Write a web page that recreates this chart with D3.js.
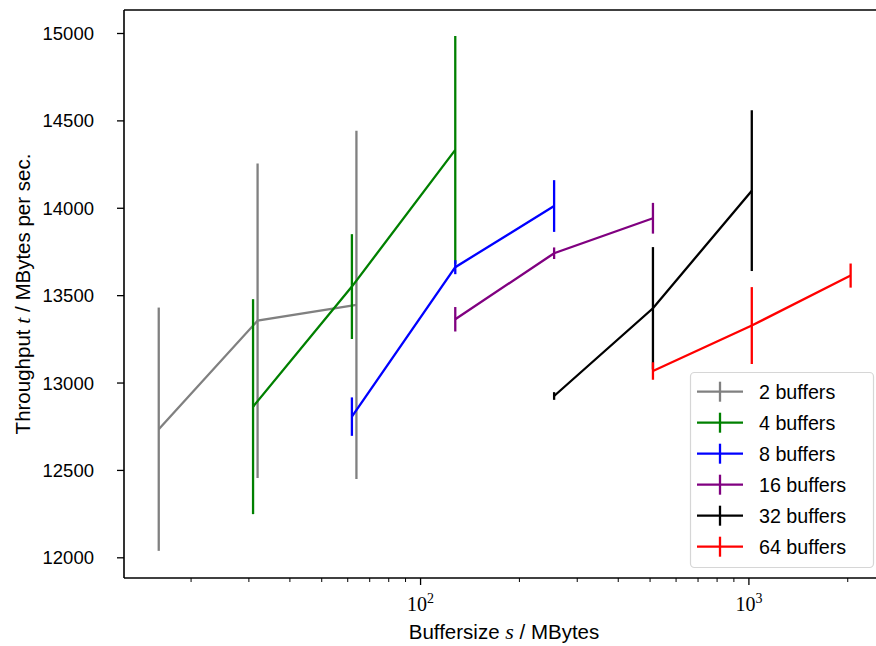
<!DOCTYPE html>
<html>
<head>
<meta charset="utf-8">
<script src="https://cdn.jsdelivr.net/npm/d3@7"></script>
<style>
  body { margin: 0; background: #fff; }
  svg text { font-family: "Liberation Sans", Arial, sans-serif; fill: #000; }
</style>
</head>
<body>
<div id="chart"></div>
<script>
// series: buffer sizes (MBytes), mean throughput and error (MBytes/s)
var labels = ["2 buffers", "4 buffers", "8 buffers", "16 buffers", "32 buffers", "64 buffers"];
var colors = ["gray", "green", "blue", "purple", "black", "red"];

var sizes2 = [16, 32, 64],     tp2 = [12733, 13354, 13444],  err2 = [696, 900, 996];
var sizes4 = [31, 62, 128],    tp4 = [12862, 13549, 14331],  err4 = [615, 300, 652];
var sizes8 = [62, 128, 256],   tp8 = [12805, 13660, 14010],  err8 = [110, 40, 148];
var sizes16 = [128, 256, 512], tp16 = [13362, 13740, 13940], err16 = [70, 33, 88];
var sizes32 = [256, 512, 1024], tp32 = [12923, 13425, 14098], err32 = [22, 350, 460];
var sizes64 = [512, 1024, 2048], tp64 = [13066, 13326, 13612], err64 = [50, 220, 69];

var yTicks = [12000, 12500, 13000, 13500, 14000, 14500, 15000];
var xMajor = [100, 1000];
var xMinor = [20, 30, 40, 50, 60, 70, 80, 90, 200, 300, 400, 500, 600, 700, 800, 900, 2000];

var series = [
  {s: sizes2, t: tp2, e: err2},
  {s: sizes4, t: tp4, e: err4},
  {s: sizes8, t: tp8, e: err8},
  {s: sizes16, t: tp16, e: err16},
  {s: sizes32, t: tp32, e: err32},
  {s: sizes64, t: tp64, e: err64}
];

var W = 876, H = 646;
var mLeft = 124, mRight = 884, mTop = 10, mBottom = 578;

var svg = d3.select("#chart").append("svg")
    .attr("width", W).attr("height", H);

var x = d3.scaleLog().domain([12.54, 2588]).range([mLeft, mRight]);
var y = d3.scaleLinear().domain([11881.6, 15131.6]).range([mBottom, mTop]);

var plot = svg.append("g");

series.forEach(function (ser, i) {
  var pts = ser.s.map(function (d, j) { return {x: d, y: ser.t[j], e: ser.e[j]}; });
  var g = plot.append("g");
  g.append("path")
      .datum(pts)
      .attr("fill", "none")
      .attr("stroke", colors[i])
      .attr("stroke-width", 2.3)
      .attr("d", d3.line().x(function (d) { return x(d.x); }).y(function (d) { return y(d.y); }));
  g.selectAll("line.err")
      .data(pts)
      .enter().append("line")
      .attr("class", "err")
      .attr("x1", function (d) { return x(d.x); })
      .attr("x2", function (d) { return x(d.x); })
      .attr("y1", function (d) { return y(d.y - d.e); })
      .attr("y2", function (d) { return y(d.y + d.e); })
      .attr("stroke", colors[i])
      .attr("stroke-width", 2.3);
});

// frame
svg.append("line").attr("x1", mLeft).attr("x2", mLeft).attr("y1", mTop).attr("y2", mBottom)
    .attr("stroke", "#000").attr("stroke-width", 1.6);
svg.append("line").attr("x1", mLeft).attr("x2", W).attr("y1", mTop).attr("y2", mTop)
    .attr("stroke", "#000").attr("stroke-width", 1.6);
svg.append("line").attr("x1", mLeft).attr("x2", W).attr("y1", mBottom).attr("y2", mBottom)
    .attr("stroke", "#000").attr("stroke-width", 1.6);

// y axis
var yAxis = svg.append("g")
    .attr("transform", "translate(" + mLeft + ",0)")
    .call(d3.axisLeft(y).tickValues(yTicks).tickSize(7).tickPadding(23).tickFormat(d3.format("d")));
yAxis.select(".domain").remove();
yAxis.selectAll(".tick line").attr("stroke-width", 1.3);
yAxis.selectAll(".tick text").style("font-size", "18.5px").attr("dy", "0.35em");

// x axis, minor ticks
var xMin = svg.append("g")
    .attr("transform", "translate(0," + mBottom + ")")
    .call(d3.axisBottom(x).tickValues(xMinor).tickSize(4).tickFormat(""));
xMin.select(".domain").remove();
xMin.selectAll(".tick line").attr("stroke-width", 1);

// x axis, major ticks
var xMaj = svg.append("g")
    .attr("transform", "translate(0," + mBottom + ")")
    .call(d3.axisBottom(x).tickValues(xMajor).tickSize(7).tickFormat(""));
xMaj.select(".domain").remove();
xMaj.selectAll(".tick line").attr("stroke-width", 1.3);
xMaj.selectAll(".tick").each(function (d) {
  var t = d3.select(this).append("text")
      .attr("y", 33)
      .attr("text-anchor", "middle")
      .style("font-family", "'Liberation Serif', 'DejaVu Serif', serif")
      .style("font-size", "20px");
  t.append("tspan").text("10");
  t.append("tspan").attr("dy", -8).style("font-size", "14px").text(Math.round(Math.log10(d)));
});

// axis labels
var xl = svg.append("text")
    .attr("x", 504).attr("y", 639)
    .attr("text-anchor", "middle")
    .style("font-size", "20.5px");
xl.append("tspan").text("Buffersize ");
xl.append("tspan").style("font-family", "'Liberation Serif', serif").style("font-style", "italic").style("font-size", "22px").text("s");
xl.append("tspan").text(" / MBytes");

var yl = svg.append("text")
    .attr("transform", "translate(30,294) rotate(-90)")
    .attr("text-anchor", "middle")
    .style("font-size", "20.5px");
yl.append("tspan").text("Throughput ");
yl.append("tspan").style("font-family", "'Liberation Serif', serif").style("font-style", "italic").style("font-size", "22px").text("t");
yl.append("tspan").text(" / MBytes per sec.");

// legend
var lg = svg.append("g");
lg.append("rect")
    .attr("x", 690.5).attr("y", 372.5).attr("width", 183).attr("height", 195)
    .attr("rx", 4)
    .attr("fill", "#fff").attr("fill-opacity", 0.8)
    .attr("stroke", "#d6d6d6").attr("stroke-width", 1.2);
var rows = lg.selectAll("g.row").data(labels).enter().append("g")
    .attr("transform", function (d, i) { return "translate(0," + (391.7 + i * 31) + ")"; });
rows.append("line")
    .attr("x1", 697).attr("x2", 743).attr("y1", 0).attr("y2", 0)
    .attr("stroke", function (d, i) { return colors[i]; }).attr("stroke-width", 2.3);
rows.append("line")
    .attr("x1", 720).attr("x2", 720).attr("y1", -10).attr("y2", 10)
    .attr("stroke", function (d, i) { return colors[i]; }).attr("stroke-width", 2.3);
rows.append("text")
    .attr("x", 759).attr("y", 0).attr("dy", "0.35em")
    .style("font-size", "19.7px")
    .text(function (d) { return d; });
</script>
</body>
</html>
